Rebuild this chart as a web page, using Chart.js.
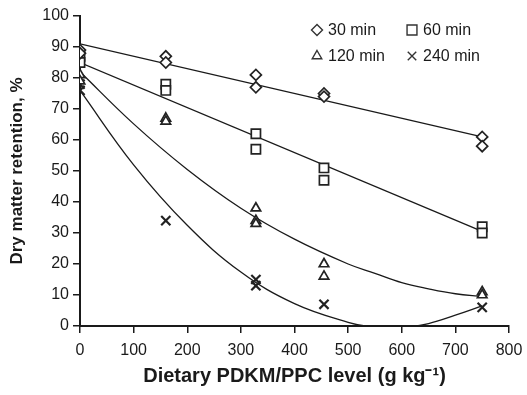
<!DOCTYPE html>
<html>
<head>
<meta charset="utf-8">
<script src="https://cdn.jsdelivr.net/npm/chart.js@4"></script>
<style>
  html, body { margin: 0; padding: 0; background: #fff; }
  #wrap { width: 527px; height: 395px; }
</style>
</head>
<body>
<div id="wrap"><canvas id="chart" width="527" height="395"></canvas></div>
<script>
// observed points (x = dietary level, y = retention %)
const levels = [0, 0, 160, 160, 328, 328, 455, 455, 750, 750];
const ret30 = [89, 88, 87, 85, 81, 77, 75, 74, 61, 58];
const ret60 = [87, 85, 78, 76, 62, 57, 51, 47, 32, 30];
const levels120 = [0, 0, 160, 160, 328, 328, 328, 455, 455, 750, 750];
const ret120 = [81, 79, 67, 66, 38, 34, 33, 20, 16, 11, 10];
const levels240 = [0, 0, 160, 328, 328, 455, 750];
const ret240 = [78, 76, 34, 15, 13, 7, 6];

// fitted trend lines
const fitLinX = [0, 750];
const fit30 = [91, 61];
const fit60 = [85, 30.5];
const fitCurveX = [0, 100, 200, 300, 400, 500, 550, 600, 650, 700, 750];
const fit120 = [82, 65.2, 50.5, 38, 28, 20, 17, 14, 12, 10.4, 9.5];
const fit240 = [76, 52, 32.5, 17.4, 7.2, 1.2, -0.4, -0.5, 0.8, 3.5, 6.5];

const xTicks = [0, 100, 200, 300, 400, 500, 600, 700, 800];
const yTicks = [0, 10, 20, 30, 40, 50, 60, 70, 80, 90, 100];

const legendItems = [
    { label: '30 min', style: 'rectRot', r: 5.5 },
    { label: '60 min', style: 'rect', r: 7 },
    { label: '120 min', style: 'triangle', r: 5.5 },
    { label: '240 min', style: 'crossRot', r: 6 }
];

const toPts = (xs, ys) => xs.map((x, i) => ({ x: x, y: ys[i] }));

const ink = '#1a1a1a';
const fontFam = '"Liberation Sans", Arial, sans-serif';

const markerSet = (label, xs, ys, style, r, bw) => ({
    label: label,
    data: toPts(xs, ys),
    pointStyle: style,
    pointRadius: r,
    pointBorderColor: '#222',
    pointBackgroundColor: '#fff',
    pointBorderWidth: bw,
    showLine: false,
    order: 1
});

const fitSet = (xs, ys, tension) => ({
    label: '',
    data: toPts(xs, ys),
    showLine: true,
    borderColor: ink,
    borderWidth: 1.3,
    pointRadius: 0,
    tension: tension,
    order: 2
});

// 2x2 legend inside the plot
const legendPlugin = {
    id: 'gridLegend',
    afterDraw(chart) {
        const ctx = chart.ctx;
        const cols = [317, 412];
        const rows = [30, 56];
        ctx.save();
        ctx.font = '16px ' + fontFam;
        ctx.textBaseline = 'middle';
        ctx.textAlign = 'left';
        legendItems.forEach((it, i) => {
            const cx = cols[i % 2];
            const cy = rows[Math.floor(i / 2)];
            ctx.strokeStyle = '#333';
            ctx.fillStyle = '#fff';
            ctx.lineWidth = 1.4;
            Chart.helpers.drawPoint(ctx, { pointStyle: it.style, radius: it.r, rotation: 0, borderWidth: 1.4 }, cx, cy);
            ctx.fillStyle = ink;
            ctx.fillText(it.label, cx + 11, cy + 1);
        });
        ctx.restore();
    }
};

new Chart(document.getElementById('chart'), {
    type: 'scatter',
    data: {
        datasets: [
            markerSet('30 min', levels, ret30, 'rectRot', 5.5, 1.7),
            markerSet('60 min', levels, ret60, 'rect', 6.5, 1.7),
            markerSet('120 min', levels120, ret120, 'triangle', 5.5, 1.7),
            markerSet('240 min', levels240, ret240, 'crossRot', 6.5, 2.2),
            fitSet(fitLinX, fit30, 0),
            fitSet(fitLinX, fit60, 0),
            fitSet(fitCurveX, fit120, 0.4),
            fitSet(fitCurveX, fit240, 0.4)
        ]
    },
    options: {
        responsive: false,
        animation: false,
        layout: { padding: { top: 16, right: 18, left: 0, bottom: 0 } },
        plugins: {
            legend: { display: false },
            tooltip: { enabled: false }
        },
        scales: {
            x: {
                type: 'linear',
                min: xTicks[0],
                max: xTicks[xTicks.length - 1],
                afterFit: s => { s.height = 69; s.paddingRight = 14; s.paddingLeft = 0; },
                afterBuildTicks: s => { s.ticks = xTicks.map(v => ({ value: v })); },
                border: { color: ink, width: 2 },
                grid: { drawOnChartArea: false, color: ink, lineWidth: 1.5, tickLength: 7 },
                ticks: {
                    color: ink,
                    padding: 8,
                    maxRotation: 0,
                    font: { family: fontFam, size: 16 }
                },
                title: {
                    display: true,
                    text: 'Dietary PDKM/PPC level (g kg\u207B\u00B9)',
                    color: ink,
                    padding: { top: 0, bottom: 7 },
                    font: { family: fontFam, size: 20, weight: 'bold' }
                }
            },
            y: {
                min: yTicks[0],
                max: yTicks[yTicks.length - 1],
                afterFit: s => { s.width = 80; },
                afterBuildTicks: s => { s.ticks = yTicks.map(v => ({ value: v })); },
                border: { color: ink, width: 2 },
                grid: { drawOnChartArea: false, color: ink, lineWidth: 1.5, tickLength: 7 },
                ticks: {
                    color: ink,
                    padding: 4,
                    font: { family: fontFam, size: 16 }
                },
                title: {
                    display: true,
                    text: 'Dry matter retention, %',
                    color: ink,
                    padding: { top: 7, bottom: 0 },
                    font: { family: fontFam, size: 17, weight: 'bold' }
                }
            }
        }
    },
    plugins: [legendPlugin]
});
</script>
</body>
</html>
